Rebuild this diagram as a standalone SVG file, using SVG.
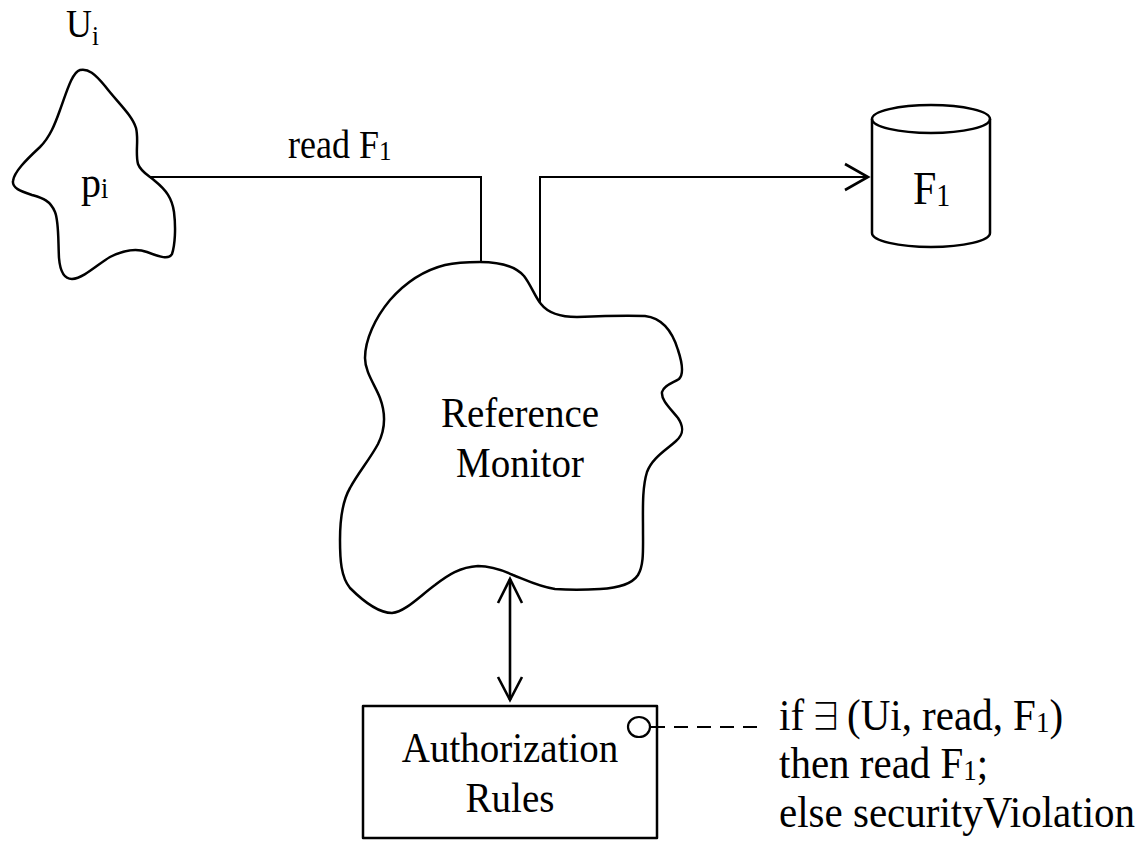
<svg xmlns="http://www.w3.org/2000/svg" width="1147" height="851" viewBox="0 0 1147 851">
<style>
.shape{fill:none;stroke:#000;stroke-width:2.5;stroke-linejoin:round}
.wire{fill:none;stroke:#000;stroke-width:2}
.head{fill:none;stroke:#000;stroke-width:2.6}
.t{font-family:"Liberation Serif","DejaVu Serif",serif;fill:#000}
</style>
<rect width="1147" height="851" fill="#fff"/>
<g id="process">
<path class="shape" d="M80,70 C88,68 95,74 105,86 C118,103 132,115 136,128 C139,140 135,152 138,164 C141,172 148,175 155,181 C166,190 172,198 174,212 C176,228 175,245 172,254 C169,260 160,257 147,252 C136,248 124,250 110,257 C98,264 84,278 72,279 C63,279 60,270 59,258 C58,240 59,222 55,212 C50,200 42,198 32,195 C20,191 12,188 13,181 C14,172 26,160 40,147 C50,137 55,124 60,110 C66,94 72,72 80,70 Z"/>
<text class="t" transform="translate(66,37) scale(1,1.1)" font-size="36">U<tspan font-size="25" dy="7">i</tspan></text>
<text class="t" transform="translate(81,197) scale(1,1.1)" font-size="40">p<tspan font-size="26" dy="1">i</tspan></text>
</g>
<g id="monitor">
<path class="shape" d="M480,262 C500,262 515,266 524,276 C531,285 535,297 541,304 C548,313 560,317 577,317 C600,316 625,315 645,316 C662,318 672,330 678,350 C682,362 684,374 679,379 C673,383 664,385 662,392 C661,400 670,408 678,418 C684,427 684,434 676,441 C666,450 652,458 647,472 C642,488 643,510 643,530 C643,550 644,565 638,575 C632,584 620,588 600,589 C585,590 568,590 555,589 C540,587 528,581 513,575 C500,569 490,566 478,566 C460,567 448,575 435,585 C420,596 405,612 392,613 C380,613 364,602 350,588 C341,577 340,560 340,540 C340,520 343,500 350,488 C358,473 370,459 378,444 C385,430 386,414 380,398 C375,385 365,372 365,358 C365,340 375,318 390,300 C405,283 425,270 445,265 C458,262 468,262 480,262 Z"/>
<text class="t" transform="translate(520,427) scale(1,1.1)" font-size="39" text-anchor="middle">Reference</text>
<text class="t" transform="translate(520,477) scale(1,1.1)" font-size="39" text-anchor="middle">Monitor</text>
</g>
<g id="file">
<path class="shape" d="M872,119 V233 A59,14 0 0 0 990,233 V119"/>
<ellipse class="shape" cx="931" cy="119" rx="59" ry="14"/>
<text class="t" transform="translate(913,204) scale(1,1.1)" font-size="42">F<tspan font-size="28" dy="2">1</tspan></text>
</g>
<g id="rules">
<rect class="shape" x="363" y="706" width="294" height="132"/>
<text class="t" transform="translate(510,762) scale(1,1.1)" font-size="39" text-anchor="middle">Authorization</text>
<text class="t" transform="translate(510,812) scale(1,1.1)" font-size="39" text-anchor="middle">Rules</text>
<ellipse cx="639" cy="727" rx="11" ry="10" fill="#fff" stroke="#000" stroke-width="2.2"/>
</g>
<g id="connectors">
<path class="wire" d="M150,177 H481 V262"/>
<path class="wire" d="M540,303 V177 H868" stroke-width="2.3"/>
<path class="head" d="M845,164 L868,177 L845,190"/>
<path class="head" d="M510,579 V700"/>
<path class="head" d="M498,603 L510,579 L522,603"/>
<path class="head" d="M498,677 L510,700 L522,677"/>
<path class="wire" d="M651,727 H757" stroke-dasharray="14 9"/>
<text class="t" transform="translate(288,158) scale(1,1.1)" font-size="36">read F<tspan font-size="25" dy="2">1</tspan></text>
</g>
<g id="rule-text">
<text class="t" transform="translate(779,730) scale(1,1.1)" font-size="41">if</text>
<text transform="translate(826,730) scale(1,1.1)" font-size="34" text-anchor="middle" font-family="'Noto Sans CJK JP','DejaVu Sans',sans-serif" font-weight="300">∃</text>
<text class="t" transform="translate(847,730) scale(1,1.1)" font-size="41">(Ui, read, F<tspan font-size="27" dy="2">1</tspan><tspan dy="-2">)</tspan></text>
<text class="t" transform="translate(779,778) scale(1,1.1)" font-size="41">then read F<tspan font-size="27" dy="2">1</tspan><tspan dy="-2">;</tspan></text>
<text class="t" transform="translate(779,827) scale(1,1.1)" font-size="41">else securityViolation</text>
</g>
</svg>
